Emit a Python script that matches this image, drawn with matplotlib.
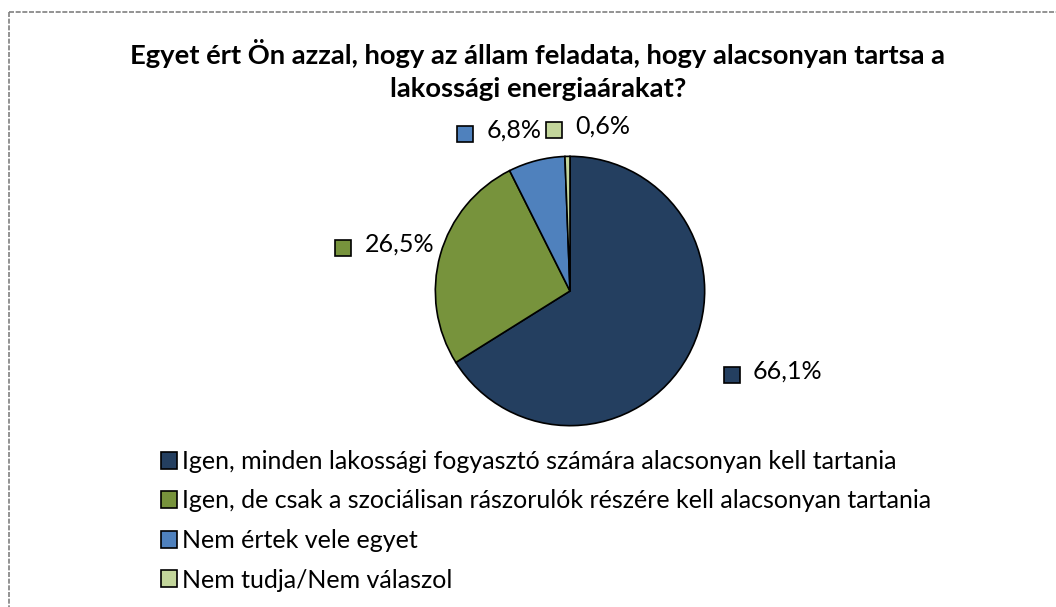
"""Pie chart: state role in keeping household energy prices low."""

import matplotlib

matplotlib.use("Agg")
import matplotlib.pyplot as plt
from matplotlib.lines import Line2D
from matplotlib.patches import Patch

plt.rcParams["font.family"] = ["Lato", "DejaVu Sans"]

title = "Egyet ért Ön azzal, hogy az állam feladata, hogy alacsonyan tartsa a\nlakossági energiaárakat?"
categories = [
    "Igen, minden lakossági fogyasztó számára alacsonyan kell tartania",
    "Igen, de csak a szociálisan rászorulók részére kell alacsonyan tartania",
    "Nem értek vele egyet",
    "Nem tudja/Nem válaszol",
]
shares = [66.1, 26.5, 6.8, 0.6]
colors = ["#243f60", "#77933c", "#4f81bd", "#c3d69b"]

W, H = 1056, 607
fig = plt.figure(figsize=(W / 100, H / 100), dpi=100)


def fx(px):
    return px / W


def fy(py):
    return 1 - py / H


# dashed frame (left and top edges visible)
frame_kw = dict(color="#808080", lw=1.2, ls=(0, (3, 1)), transform=fig.transFigure)
fig.add_artist(Line2D([fx(8.5), fx(1056)], [fy(11.5), fy(11.5)], **frame_kw))
fig.add_artist(Line2D([fx(8.5), fx(8.5)], [fy(11.5), fy(607)], **frame_kw))

fig.text(fx(538), fy(70), title, ha="center", va="center", fontsize=19.7,
         fontweight="bold", linespacing=1.42)

# pie
cx, cy, r = 570, 291, 136
ax = fig.add_axes([fx(cx - r), fy(cy + r), 2 * r / W, 2 * r / H])
ax.pie(shares, colors=colors, startangle=90, counterclock=False,
       wedgeprops=dict(edgecolor="black", linewidth=1.2))
ax.set_xlim(-1.01, 1.01)
ax.set_ylim(-1.01, 1.01)
ax.set_aspect("equal")
ax.axis("off")

# data labels with colour key
label_pos = [(731.5, 375), (343, 248), (465, 134), (553.5, 129.5)]
for value, color, (lx, ly) in zip(shares, colors, label_pos):
    fig.add_artist(Line2D([fx(lx)], [fy(ly)], marker="s", markersize=11,
                          markerfacecolor=color, markeredgecolor="black",
                          markeredgewidth=1.2, transform=fig.transFigure))
    fig.text(fx(lx + 21.5), fy(ly - 3.5), f"{value:.1f}%".replace(".", ","),
             ha="left", va="center", fontsize=18)

handles = [Patch(facecolor=c, edgecolor="black", linewidth=1.2) for c in colors]
fig.legend(handles, categories, loc="upper left",
           bbox_to_anchor=(fx(161), fy(450)), frameon=False, fontsize=18,
           handlelength=0.65, handleheight=0.65, handletextpad=0.2,
           labelspacing=0.66, borderpad=0, borderaxespad=0)

fig.savefig("out.png", dpi=100)
